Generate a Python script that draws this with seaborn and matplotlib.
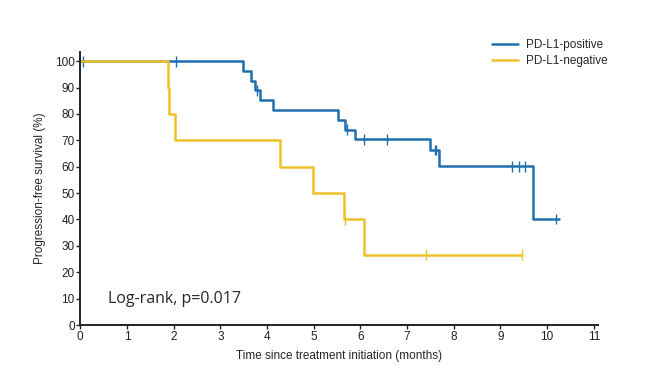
import matplotlib
matplotlib.use("Agg")
import matplotlib.pyplot as plt
import pandas as pd
import seaborn as sns

# Kaplan-Meier steps (time in months, survival in %)
pos_time = [0, 3.48, 3.66, 3.75, 3.84, 4.12, 5.52, 5.67, 5.89, 7.49, 7.69, 9.69, 10.25]
pos_surv = [100, 96.3, 92.6, 88.9, 85.2, 81.5, 77.8, 74.1, 70.4, 66.3, 60.2, 40.2, 40.2]
pos_cens_time = [0.05, 2.05, 3.78, 5.71, 6.08, 6.57, 7.60, 7.63, 9.24, 9.39, 9.53, 10.19]
pos_cens_surv = [100, 100, 88.9, 74.1, 70.4, 70.4, 66.3, 66.3, 60.2, 60.2, 60.2, 40.2]

neg_time = [0, 1.87, 1.90, 2.02, 4.28, 4.98, 5.64, 6.07, 9.47]
neg_surv = [100, 90, 80, 70, 60, 50, 40, 26.7, 26.7]
neg_cens_time = [5.67, 7.40, 9.46]
neg_cens_surv = [40, 26.7, 26.7]

groups = ["PD-L1-positive", "PD-L1-negative"]
colors = ["#1f6fae", "#efc12a"]

steps = pd.concat([
    pd.DataFrame({"time": pos_time, "surv": pos_surv, "group": groups[0]}),
    pd.DataFrame({"time": neg_time, "surv": neg_surv, "group": groups[1]}),
])
cens = pd.concat([
    pd.DataFrame({"time": pos_cens_time, "surv": pos_cens_surv, "group": groups[0]}),
    pd.DataFrame({"time": neg_cens_time, "surv": neg_cens_surv, "group": groups[1]}),
])

sns.set_style("ticks")
plt.rcParams['font.family'] = ['Liberation Sans', 'DejaVu Sans']

fig, ax = plt.subplots(figsize=(6.47, 3.74), dpi=100)
fig.subplots_adjust(left=0.124, right=0.925, bottom=0.131, top=0.861)

sns.lineplot(data=steps, x="time", y="surv", hue="group", hue_order=groups,
             palette=colors, drawstyle="steps-post", linewidth=1.8,
             estimator=None, sort=False, ax=ax)
sns.scatterplot(data=cens, x="time", y="surv", hue="group", hue_order=groups,
                palette=colors, marker="|", s=60, linewidth=1.0,
                legend=False, ax=ax)

ax.set_xlim(0, 11.1)
ax.set_ylim(0, 103.5)
ax.set_xticks(range(0, 12))
ax.set_yticks(range(0, 101, 10))
ax.tick_params(labelsize=8.5, length=3, width=1, colors="#222222", pad=1)
for s in ["top", "right"]:
    ax.spines[s].set_visible(False)
for s in ["left", "bottom"]:
    ax.spines[s].set_linewidth(1.4)
    ax.spines[s].set_color("#222222")

ax.set_xlabel("Time since treatment initiation (months)", fontsize=8.5, labelpad=5)
ax.set_ylabel("Progression-free survival (%)", fontsize=8.5, labelpad=6)

ax.text(0.6, 10, "Log-rank, p=0.017", fontsize=11.5, family="Open Sans",
        va="center", ha="left")

leg = ax.legend(loc="upper left", bbox_to_anchor=(0.775, 1.085), frameon=False,
                fontsize=8.5, handlelength=2.2, handletextpad=0.6,
                labelspacing=0.3, title=None)

plt.savefig("out.png", dpi=100)
